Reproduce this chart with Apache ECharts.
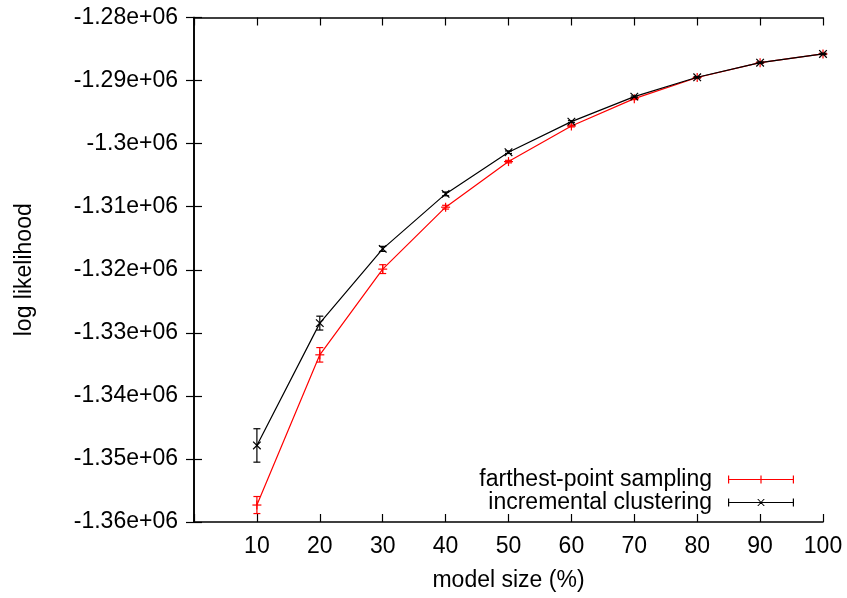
<!DOCTYPE html>
<html>
<head>
<meta charset="utf-8">
<script src="https://cdn.jsdelivr.net/npm/echarts@6/dist/echarts.min.js"></script>
<style>html,body{margin:0;padding:0;background:#fff}#c{width:847px;height:598px}</style>
</head>
<body>
<div id="c"></div>
<script>
// model size (%)
const sizes = [10, 20, 30, 40, 50, 60, 70, 80, 90, 100];
// farthest-point sampling: mean log likelihood and error
const fpsMean = [-1357310, -1333490, -1319900, -1310080, -1302850, -1297200, -1292870, -1289510, -1287160, -1285780];
const fpsErr  = [1350, 1150, 700, 300, 200, 150, 150, 100, 100, 100];
// incremental clustering: mean log likelihood and error
const incMean = [-1347860, -1328460, -1316690, -1307970, -1301360, -1296510, -1292550, -1289480, -1287160, -1285780];
const incErr  = [2650, 1100, 400, 300, 200, 150, 100, 100, 100, 100];
const yTicks = [-1360000, -1350000, -1340000, -1330000, -1320000, -1310000, -1300000, -1290000, -1280000];
const seriesNames = ['farthest-point sampling', 'incremental clustering'];

const FONT = '"Liberation Sans", Arial, sans-serif';
const FS = 23;

function fmtY(v) {
  return parseFloat((v / 1e6).toFixed(2)).toString() + 'e+06';
}

function errData(means, errs) {
  return sizes.map((x, i) => [x, means[i], errs[i]]);
}

function makeRender(color, marker) {
  return function (params, api) {
    const x = api.value(0), y = api.value(1), e = api.value(2);
    const p = api.coord([x, y]);
    const hi = api.coord([x, y + e]);
    const lo = api.coord([x, y - e]);
    const cw = 3.5, m = 4.5;
    const st = { stroke: color, lineWidth: 1.2, fill: null };
    const ch = [
      { type: 'line', shape: { x1: p[0], y1: hi[1], x2: p[0], y2: lo[1] }, style: st },
      { type: 'line', shape: { x1: p[0] - cw, y1: hi[1], x2: p[0] + cw, y2: hi[1] }, style: st },
      { type: 'line', shape: { x1: p[0] - cw, y1: lo[1], x2: p[0] + cw, y2: lo[1] }, style: st }
    ];
    if (marker === 'plus') {
      ch.push({ type: 'line', shape: { x1: p[0] - m, y1: p[1], x2: p[0] + m, y2: p[1] }, style: st });
      ch.push({ type: 'line', shape: { x1: p[0], y1: p[1] - m, x2: p[0], y2: p[1] + m }, style: st });
    } else {
      const d = 3.8;
      ch.push({ type: 'line', shape: { x1: p[0] - d, y1: p[1] - d, x2: p[0] + d, y2: p[1] + d }, style: st });
      ch.push({ type: 'line', shape: { x1: p[0] - d, y1: p[1] + d, x2: p[0] + d, y2: p[1] - d }, style: st });
    }
    return { type: 'group', children: ch };
  };
}

const iconPlus = 'path://M0,0h1.2v8h-1.2z M0,3.4h66v1.2h-66z M64.8,0h1.2v8h-1.2z M32.4,0h1.2v8h-1.2z';
const iconX = 'path://M0,0h1.2v8h-1.2z M0,3.4h66v1.2h-66z M64.8,0h1.2v8h-1.2z M29.2,0.5L30.4,0.5L36.8,7.5L35.6,7.5Z M35.6,0.5L36.8,0.5L30.4,7.5L29.2,7.5Z';

const axisLine = { show: true, lineStyle: { color: '#000', width: 1.6 } };
const tick = { show: true, inside: true, length: 8, lineStyle: { color: '#000', width: 1.2 } };

const chart = echarts.init(document.getElementById('c'), null, { renderer: 'canvas' });
chart.setOption({
  animation: false,
  backgroundColor: '#fff',
  textStyle: { fontFamily: FONT },
  grid: { left: 194, right: 24, top: 17.5, bottom: 76, containLabel: false },
  legend: [
    {
      data: [{ name: seriesNames[0], icon: iconPlus, itemStyle: { color: '#ff0000' } }],
      right: 53, top: 468, padding: 0, align: 'right', itemWidth: 66, itemHeight: 8,
      selectedMode: false,
      textStyle: { fontSize: FS, color: '#000', fontFamily: FONT, padding: [0, 11, 0, 0] }
    },
    {
      data: [{ name: seriesNames[1], icon: iconX, itemStyle: { color: '#000' } }],
      right: 53, top: 491, padding: 0, align: 'right', itemWidth: 66, itemHeight: 8,
      selectedMode: false,
      textStyle: { fontSize: FS, color: '#000', fontFamily: FONT, padding: [0, 11, 0, 0] }
    }
  ],
  xAxis: [
    {
      type: 'value', min: 0, max: 100, interval: 10, position: 'bottom',
      axisLine, axisTick: tick, splitLine: { show: false },
      axisLabel: { color: '#000', fontSize: FS, fontFamily: FONT, margin: 13,
        formatter: v => (v === 0 ? '' : String(v)) },
      name: 'model size (%)', nameLocation: 'middle', nameGap: 47,
      nameTextStyle: { color: '#000', fontSize: FS, fontFamily: FONT }
    },
    {
      type: 'value', min: 0, max: 100, interval: 10, position: 'top',
      axisLine, axisTick: tick, splitLine: { show: false }, axisLabel: { show: false }
    }
  ],
  yAxis: [
    {
      type: 'value', min: yTicks[0], max: yTicks[yTicks.length - 1], interval: 10000, position: 'left',
      axisLine, axisTick: tick, splitLine: { show: false },
      axisLabel: { color: '#000', fontSize: FS, fontFamily: FONT, margin: 16, formatter: fmtY },
      name: 'log likelihood', nameLocation: 'middle', nameGap: 158,
      nameTextStyle: { color: '#000', fontSize: FS, fontFamily: FONT }
    },
    {
      type: 'value', min: yTicks[0], max: yTicks[yTicks.length - 1], interval: 10000, position: 'right',
      axisLine, axisTick: tick, splitLine: { show: false }, axisLabel: { show: false }
    }
  ],
  series: [
    {
      name: seriesNames[0], type: 'line', showSymbol: false, symbol: 'none',
      data: sizes.map((x, i) => [x, fpsMean[i]]),
      lineStyle: { color: '#ff0000', width: 1.2 }, itemStyle: { color: '#ff0000' }, z: 3
    },
    {
      name: seriesNames[1], type: 'line', showSymbol: false, symbol: 'none',
      data: sizes.map((x, i) => [x, incMean[i]]),
      lineStyle: { color: '#000', width: 1.2 }, itemStyle: { color: '#000' }, z: 4
    },
    {
      name: 'fps-err', type: 'custom', renderItem: makeRender('#ff0000', 'plus'),
      data: errData(fpsMean, fpsErr), encode: { x: 0, y: 1 }, z: 3
    },
    {
      name: 'inc-err', type: 'custom', renderItem: makeRender('#000', 'x'),
      data: errData(incMean, incErr), encode: { x: 0, y: 1 }, z: 4
    }
  ]
});
</script>
</body>
</html>
